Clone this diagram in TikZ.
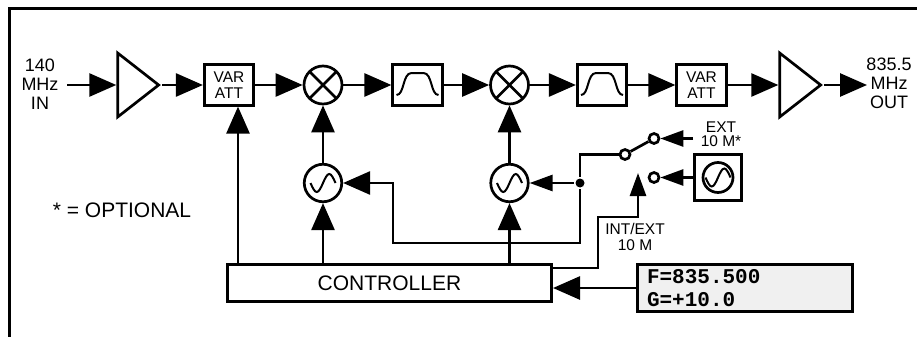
\documentclass[tikz,border=0pt]{standalone}
\usepackage{fontspec}
\setmainfont{Liberation Sans}
\newfontfamily\lcdfont{Liberation Mono}
\usetikzlibrary{arrows.meta,shapes.geometric}

\begin{document}
\begin{tikzpicture}[x=1pt,y=-1pt,line width=2.7pt,
  font=\fontsize{18}{19}\selectfont,
  sig/.style={-{Triangle[length=27pt,width=23pt]}},
  sigs/.style={-{Triangle[length=23pt,width=16pt]}},
  blk/.style={draw, rectangle, minimum width=49.5pt, minimum height=40.5pt, inner sep=0pt,
    align=center, font=\fontsize{15.5}{15.5}\selectfont},
  flt/.style={blk, path picture={\draw[line width=2pt, shift={(path picture bounding box.center)}]
    (-21,10) .. controls (-13,10) and (-15,-12) .. (-6,-12) -- (6,-12)
    .. controls (15,-12) and (13,10) .. (21,10);}},
  amp/.style={draw, isosceles triangle, isosceles triangle stretches, minimum height=41pt,
    minimum width=64pt, inner sep=0pt, anchor=lower side},
  mix/.style={draw, circle, minimum size=38pt, inner sep=0pt,
    path picture={\draw (path picture bounding box.north west) -- (path picture bounding box.south east)
      (path picture bounding box.north east) -- (path picture bounding box.south west);}},
  osc/.style={draw, circle, minimum size=#1pt, inner sep=0pt,
    path picture={\draw[line width=2pt, shift={(path picture bounding box.center)}, scale=#1/37.5]
      (-12.5,0) sin (-6.25,9) cos (0,0) sin (6.25,-9) cos (12.5,0);}},
  osc/.default=37.5,
  cont/.style={draw, circle, fill=white, minimum size=10pt, inner sep=0pt},
  small/.style={font=\fontsize{15.5}{#1}\selectfont, align=center},
  small/.default=14]
  \useasboundingbox (0,0) rectangle (917,337);
  \draw [line width=3pt] (917,8.5) -- (9.5,8.5) -- (9.5,337);

  % signal chain
  \coordinate (intail) at (67,85);
  \node [align=center] (inlbl) at (40,84) {140\\MHz\\IN};
  \node [amp] (amp1) at (116.3,85) {};
  \node [blk] (att1) at (229,85) {VAR\\ATT};
  \node [mix] (mix1) at (323,85) {};
  \node [flt] (flt1) at (417.5,85) {};
  \node [mix] (mix2) at (509.5,85) {};
  \node [flt] (flt2) at (602,85) {};
  \node [blk] (att2) at (701.5,85) {VAR\\ATT};
  \node [amp] (amp2) at (778.3,85) {};
  \coordinate (outtip) at (867,85);
  \node [align=center] (outlbl) at (889,83) {835.5\\MHz\\OUT};

  \draw [sig] (intail) -- (amp1);
  \draw [sig] (amp1) -- (att1);
  \draw [sig] (att1) -- (mix1);
  \draw [sig] (mix1) -- (flt1);
  \draw [sig] (flt1) -- (mix2);
  \draw [sig] (mix2) -- (flt2);
  \draw [sig] (flt2) -- (att2);
  \draw [sig] (att2) -- (amp2);
  \draw [sig] (amp2.apex) -- (outtip);

  % local oscillators and reference
  \node [osc] (osc1) at (323,183) {};
  \node [osc] (osc2) at (509.5,183) {};
  \node [circle, fill, inner sep=0pt, minimum size=9pt] (jn) at (580,183) {};
  \node [cont] (pole) at (625,154.5) {};
  \node [cont] (upc) at (654,138.5) {};
  \node [cont] (lowc) at (654,177.5) {};
  \node [draw, minimum width=47.3pt, minimum height=46.3pt, inner sep=0pt] (extosc) at (718,177.5) {};
  \node [osc=30] (extlo) at (extosc.center) {};
  \coordinate (extin) at (693,138.5);
  \coordinate (swtip) at (638,173);
  \node [small] (extlbl) at (721,134) {EXT\\10 M*};
  \node [small=16] (intlbl) at (635,237) {INT/EXT\\10 M};

  \draw [sig] (osc1) -- (mix1);
  \draw [sig] (osc2) -- (mix2);
  \draw [sigs] (jn) -- (osc2);
  \draw [sig] (jn) |- (393,243) |- (osc1);
  \draw (jn) |- (pole);
  \draw (pole) -- (upc);
  \draw [sigs] (extin) -- (upc);
  \draw [sigs] (extosc) -- (lowc);

  % control
  \node [draw, minimum width=324.3pt, minimum height=37.3pt, inner sep=0pt,
    font=\fontsize{21}{21}\selectfont] (ctrl) at (389.5,283) {CONTROLLER};
  \node [draw, fill=black!6, minimum width=214.7pt, minimum height=46.7pt, text width=196pt,
    inner xsep=9.35pt, align=left, font=\lcdfont\bfseries\fontsize{21}{22.5}\selectfont]
    (disp) at (745,288) {F=835.500\\G=+10.0};
  \node [font=\fontsize{21}{21}\selectfont] (optlbl) at (122,210) {* = OPTIONAL};

  \draw [sig] ([xshift=9pt]att1.south |- ctrl.north) -- ([xshift=9pt]att1.south);
  \draw [sig] (ctrl.north -| osc1) -- (osc1);
  \draw [sig] (ctrl.north -| osc2) -- (osc2);
  \draw [sigs] ([yshift=15pt]ctrl.east) -| (598,217) -| (swtip);
  \draw [sig] (disp.west) -- (disp.west -| ctrl.east);
\end{tikzpicture}
\end{document}
